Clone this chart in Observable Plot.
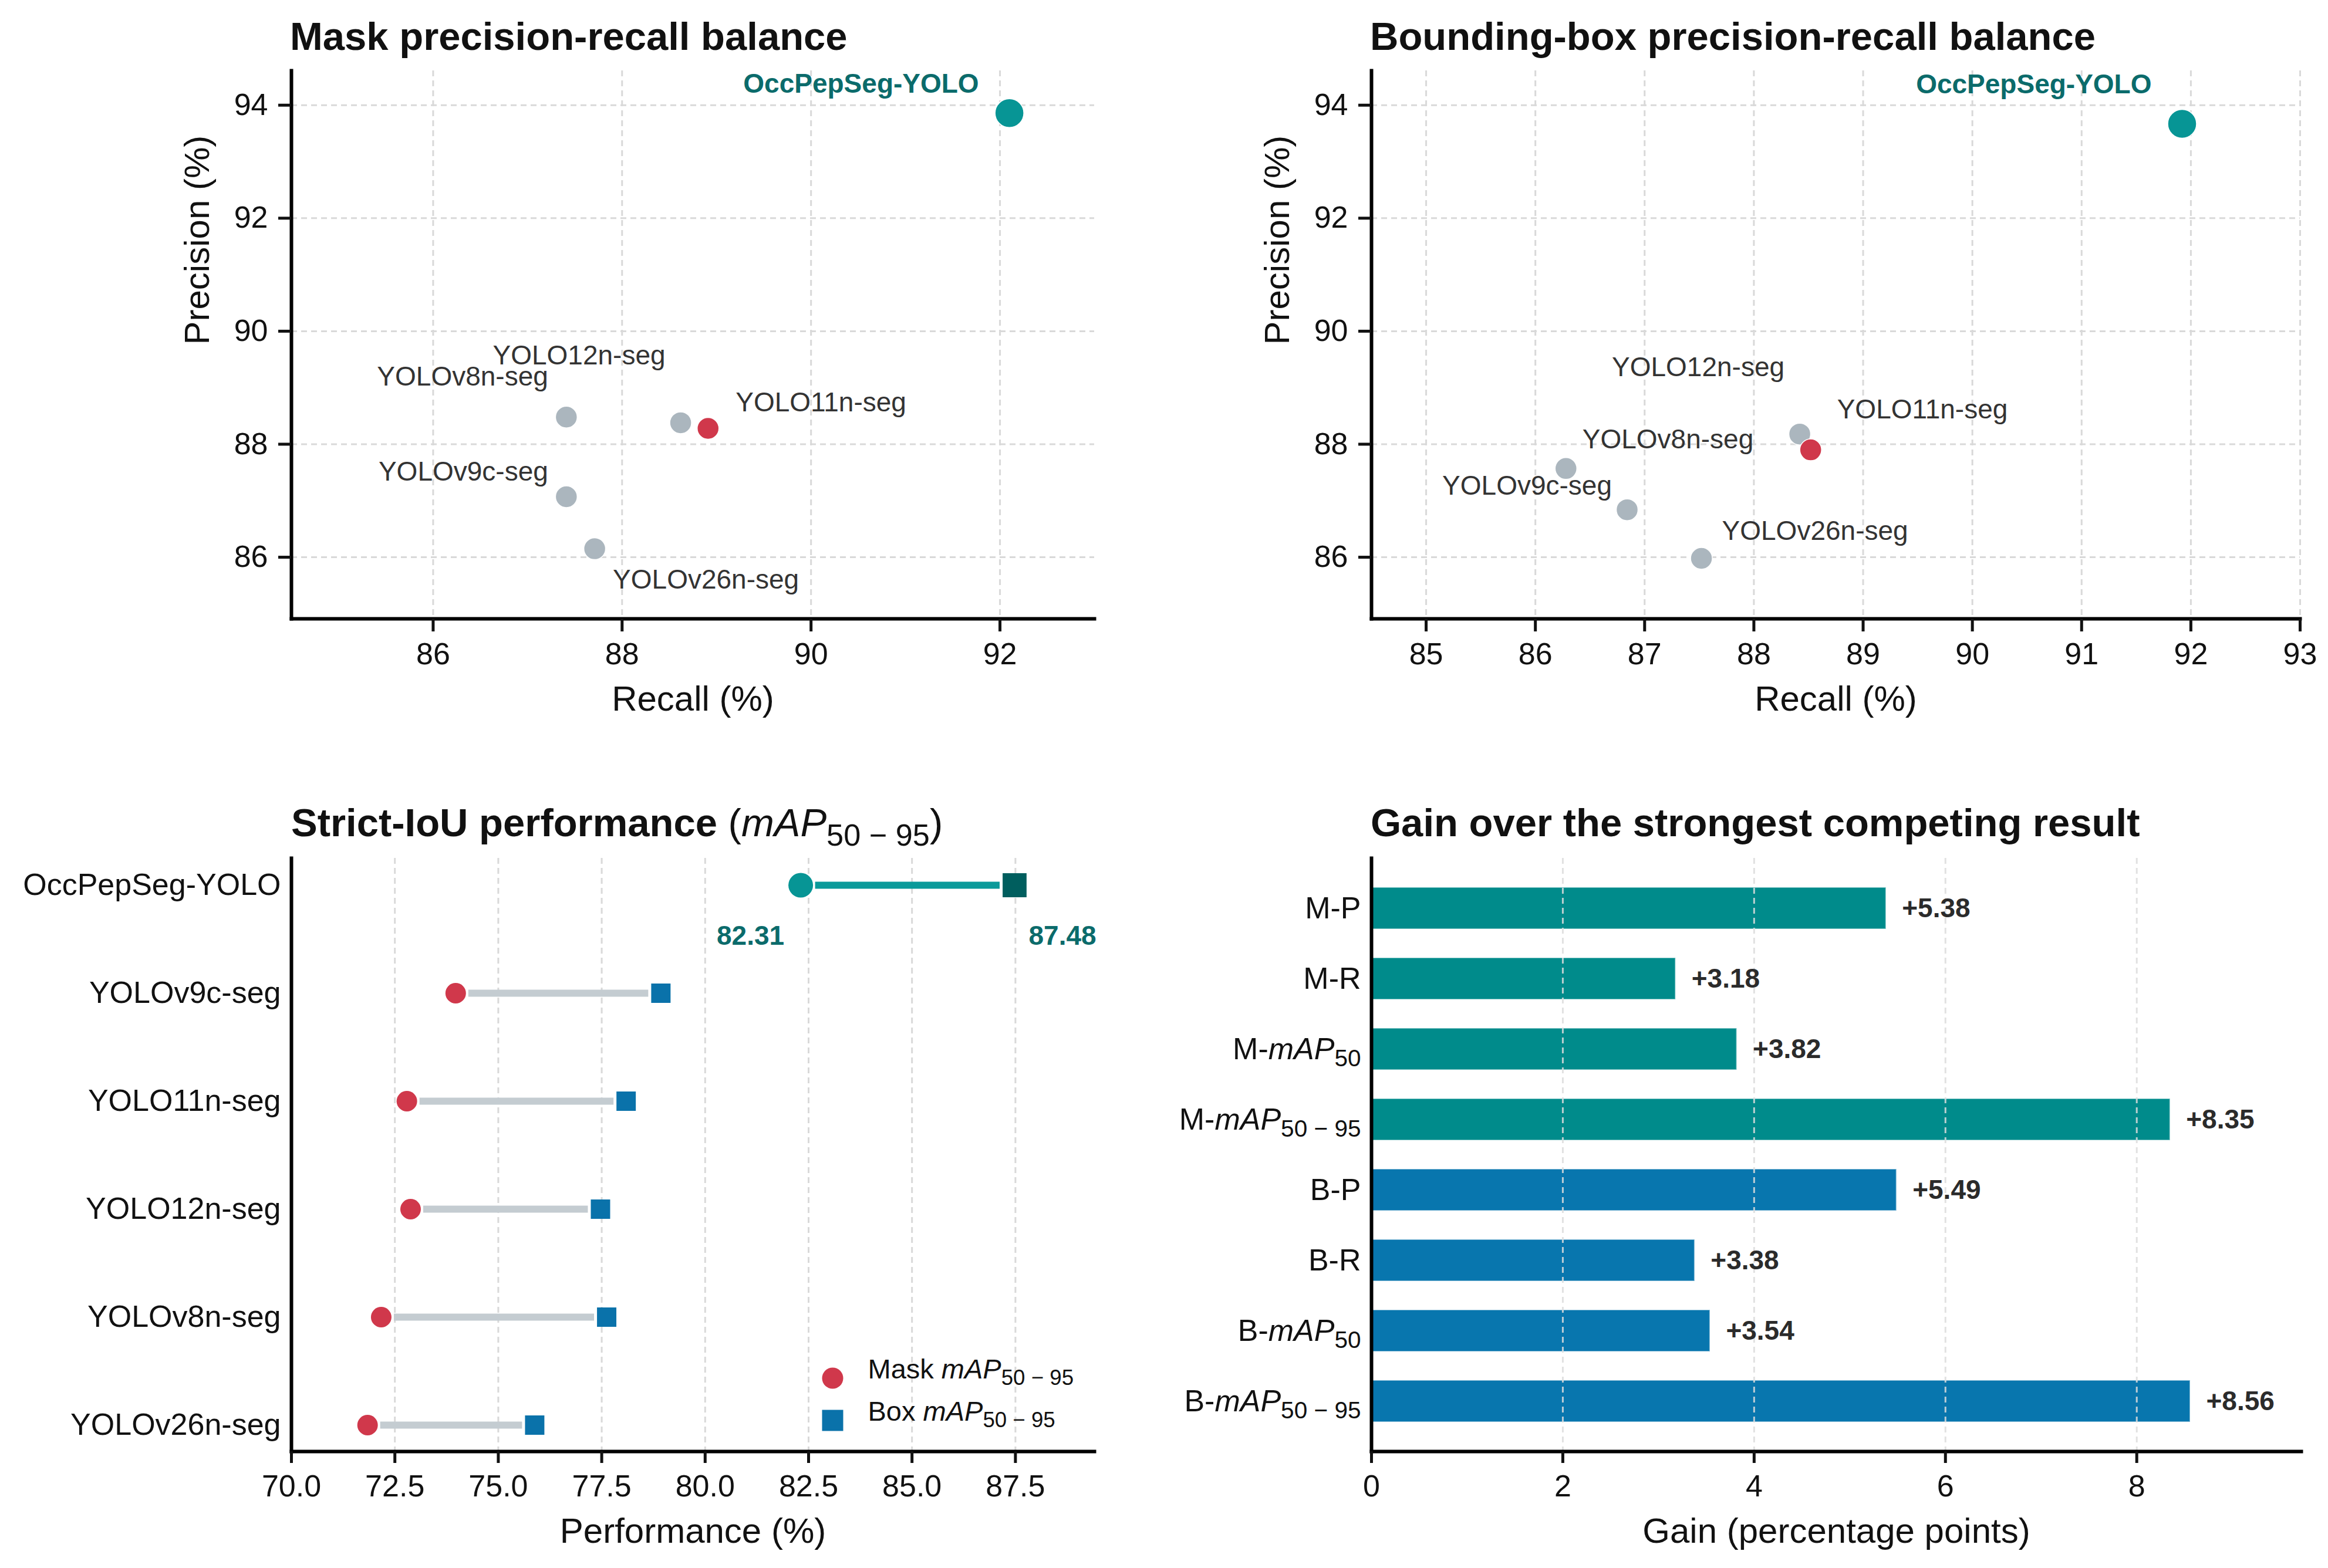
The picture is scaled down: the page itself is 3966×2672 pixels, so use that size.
<!DOCTYPE html>
<html><head><meta charset="utf-8">
<script src="https://cdn.jsdelivr.net/npm/d3@7"></script>
<script src="https://cdn.jsdelivr.net/npm/@observablehq/plot@0.6"></script>
<style>
html,body{margin:0;padding:0;background:#fff;}
#page{position:relative;width:3966px;height:2672px;overflow:hidden;font-family:"Liberation Sans",Arial,sans-serif;background:#fff;}
.panel{position:absolute;width:1983px;height:1336px;}
.panel svg{display:block;overflow:visible;}
.title{position:absolute;font-size:67px;line-height:67px;font-weight:bold;color:#111;white-space:nowrap;}
.title .m{font-weight:normal}
.sub{font-size:0.78em;position:relative;top:0.3em}
</style></head><body><div id="page"></div>
<script>
// ---------------- data ----------------
const scatterModels = ["OccPepSeg-YOLO","YOLOv8n-seg","YOLO12n-seg","YOLO11n-seg","YOLOv9c-seg","YOLOv26n-seg"];
const maskRecall    = [92.10, 87.41, 88.62, 88.91, 87.41, 87.71];
const maskPrecision = [93.86, 88.48, 88.38, 88.28, 87.07, 86.15];
const boxRecall     = [91.92, 86.28, 88.42, 88.52, 86.84, 87.52];
const boxPrecision  = [93.67, 87.57, 88.18, 87.90, 86.84, 85.98];

const dumbbellModels = ["OccPepSeg-YOLO","YOLOv9c-seg","YOLO11n-seg","YOLO12n-seg","YOLOv8n-seg","YOLOv26n-seg"];
const maskMap = [82.31, 73.97, 72.79, 72.88, 72.17, 71.84];
const boxMap  = [87.48, 78.93, 78.09, 77.47, 77.62, 75.88];

const gainLabels = ["M-P","M-R","M-mAP50","M-mAP50 − 95","B-P","B-R","B-mAP50","B-mAP50 − 95"];
const gainValues = [5.38, 3.18, 3.82, 8.35, 5.49, 3.38, 3.54, 8.56];
const gainGroups = ["Mask","Mask","Mask","Mask","Box","Box","Box","Box"];

const precisionTicks = [86, 88, 90, 92, 94];
const maskRecallTicks = [86, 88, 90, 92];
const boxRecallTicks = [85, 86, 87, 88, 89, 90, 91, 92, 93];
const perfTicks = [70, 72.5, 75, 77.5, 80, 82.5, 85, 87.5];
const gainTicks = [0, 2, 4, 6, 8];

const BEST = "OccPepSeg-YOLO", RUNNER = "YOLO11n-seg";

// ---------------- styles ----------------
const FONT = "'Liberation Sans', Arial, sans-serif";
const TEAL = "#079595", TEAL_LINE = "#0a9a9a", TEAL_DARK = "#005e5e", TEAL_TEXT = "#0b6b6b";
const RED = "#d0384b", GRAY = "#abb6be", GRAY_LINE = "#c4ccd1", BLUE = "#0a72aa";
const TEAL_BAR = "#008b8b", BLUE_BAR = "#0876ae";
const GRID = {stroke: "#d9d9d9", strokeOpacity: 1, strokeWidth: 3, strokeDasharray: "10,7"};
const SPINE = {stroke: "#000", strokeWidth: 6, strokeLinecap: "square"};

const maskLabelPos = {
  "OccPepSeg-YOLO": [-52, -49, "end"],
  "YOLOv8n-seg":    [-31, -68, "end"],
  "YOLO12n-seg":    [-26, -114, "end"],
  "YOLO11n-seg":    [47, -44, "start"],
  "YOLOv9c-seg":    [-31, -42, "end"],
  "YOLOv26n-seg":   [31, 53, "start"]
};
const boxLabelPos = {
  "OccPepSeg-YOLO": [-52, -67, "end"],
  "YOLOv8n-seg":    [28, -49, "start"],
  "YOLO12n-seg":    [-26, -113, "end"],
  "YOLO11n-seg":    [45, -68, "start"],
  "YOLOv9c-seg":    [-26, -40, "end"],
  "YOLOv26n-seg":   [35, -46, "start"]
};

function richify(svg) {
  d3.select(svg).selectAll("text").each(function () {
    const t = this.textContent;
    const m = t.match(/^(.*?)mAP(\d[\d\s−]*)$/);
    if (!m) return;
    const sel = d3.select(this);
    sel.text(null);
    if (m[1]) sel.append("tspan").text(m[1]);
    sel.append("tspan").attr("font-style", "italic").text("mAP");
    sel.append("tspan").attr("font-size", "0.78em").attr("dy", "0.3em").text(m[2]);
  });
  return svg;
}

const page = document.getElementById("page");
function place(node, left, top) {
  const div = document.createElement("div");
  div.className = "panel";
  div.style.left = left + "px";
  div.style.top = top + "px";
  div.appendChild(node);
  page.appendChild(div);
}
function title(html, left, top) {
  const div = document.createElement("div");
  div.className = "title";
  div.style.left = left + "px";
  div.style.top = top + "px";
  div.innerHTML = html;
  page.appendChild(div);
}
const baseStyle = {fontFamily: FONT, fontSize: "52px", color: "#111", background: "transparent", overflow: "visible"};

// ---------------- scatter panels ----------------
function scatter(recall, precision, xDomain, xTicks, labelPos, margins) {
  const rows = scatterModels.map((m, i) => ({model: m, recall: recall[i], precision: precision[i]}));
  const others = rows.filter(d => d.model !== BEST && d.model !== RUNNER);
  const labelMarks = rows.map(d => {
    const [dx, dy, anchor] = labelPos[d.model];
    const best = d.model === BEST;
    return Plot.text([d], {x: "recall", y: "precision", text: "model", dx, dy, textAnchor: anchor,
      lineAnchor: "middle", fontSize: 46, fontWeight: best ? "bold" : "normal", fill: best ? TEAL_TEXT : "#333"});
  });
  return Plot.plot({
    width: 1983, height: 1336, ...margins,
    x: {domain: xDomain, label: null},
    y: {domain: [84.91, 94.61], label: null},
    style: baseStyle,
    marks: [
      Plot.gridX({ticks: xTicks, ...GRID}),
      Plot.gridY({ticks: precisionTicks, ...GRID}),
      Plot.frame({anchor: "left", ...SPINE}),
      Plot.frame({anchor: "bottom", ...SPINE}),
      Plot.axisX({ticks: xTicks, tickSize: 22, tickPadding: 19, strokeWidth: 5, label: null}),
      Plot.axisY({ticks: precisionTicks, tickSize: 22, tickPadding: 18, strokeWidth: 5, label: null}),
      Plot.dot(others, {x: "recall", y: "precision", r: 18.5, fill: GRAY, stroke: "white", strokeWidth: 1.5}),
      Plot.dot(rows.filter(d => d.model === RUNNER), {x: "recall", y: "precision", r: 18.5, fill: RED, stroke: "white", strokeWidth: 1.5}),
      Plot.dot(rows.filter(d => d.model === BEST), {x: "recall", y: "precision", r: 24.5, fill: TEAL, stroke: "white", strokeWidth: 1.5}),
      ...labelMarks,
      Plot.text(["Recall (%)"], {frameAnchor: "bottom", dy: 156, fontSize: 60, fill: "#111"}),
      Plot.text(["Precision (%)"], {frameAnchor: "left", dx: -160, rotate: -90, fontSize: 60, fill: "#111"})
    ]
  });
}

place(scatter(maskRecall, maskPrecision, [84.5, 93.0], maskRecallTicks, maskLabelPos,
  {marginLeft: 496, marginRight: 119, marginTop: 120, marginBottom: 282}), 0, 0);
place(scatter(boxRecall, boxPrecision, [84.5, 93.0], boxRecallTicks, boxLabelPos,
  {marginLeft: 353, marginRight: 48, marginTop: 120, marginBottom: 282}), 1983, 0);

// ---------------- dumbbell panel ----------------
{
  const rows = dumbbellModels.map((m, i) => ({model: m, mask: maskMap[i], box: boxMap[i]}));
  const others = rows.filter(d => d.model !== BEST);
  const best = rows.filter(d => d.model === BEST);
  const svg = Plot.plot({
    width: 1983, height: 1336, marginLeft: 496, marginRight: 119, marginTop: 126, marginBottom: 199,
    x: {domain: [70, 89.41], label: null},
    y: {type: "point", domain: dumbbellModels, padding: 0.244, label: null},
    style: baseStyle,
    marks: [
      Plot.gridX({ticks: perfTicks, ...GRID}),
      Plot.frame({anchor: "left", ...SPINE}),
      Plot.frame({anchor: "bottom", ...SPINE}),
      Plot.ruleY(others, {y: "model", x1: "mask", x2: "box", stroke: GRAY_LINE, strokeWidth: 12, insetLeft: 22, insetRight: 21}),
      Plot.ruleY(best, {y: "model", x1: "mask", x2: "box", stroke: TEAL_LINE, strokeWidth: 12, insetLeft: 25, insetRight: 25}),
      Plot.dot(others, {x: "mask", y: "model", r: 17.5, fill: RED}),
      Plot.dot(others, {x: "box", y: "model", r: 18.6, symbol: "square", fill: BLUE}),
      Plot.dot(best, {x: "mask", y: "model", r: 21, fill: TEAL}),
      Plot.dot(best, {x: "box", y: "model", r: 23, symbol: "square", fill: TEAL_DARK}),
      Plot.text(best, {x: "mask", y: "model", text: d => d.mask.toFixed(2), dx: -28, dy: 87, textAnchor: "end", fontWeight: "bold", fontSize: 46, fill: TEAL_TEXT}),
      Plot.text(best, {x: "box", y: "model", text: d => d.box.toFixed(2), dx: 24, dy: 87, textAnchor: "start", fontWeight: "bold", fontSize: 46, fill: TEAL_TEXT}),
      Plot.axisX({ticks: perfTicks, tickFormat: d3.format(".1f"), tickSize: 20, tickPadding: 20, strokeWidth: 5, label: null}),
      Plot.axisY({tickSize: 0, tickPadding: 18, label: null}),
      Plot.dot([0], {frameAnchor: "bottom-right", dx: -446, dy: -125, r: 18, fill: RED}),
      Plot.dot([0], {frameAnchor: "bottom-right", dx: -446, dy: -53, r: 20.3, symbol: "square", fill: BLUE}),
      Plot.text(["Mask mAP50 − 95"], {frameAnchor: "bottom-right", dx: -386, dy: -125, textAnchor: "start", fontSize: 47, fill: "#111"}),
      Plot.text(["Box mAP50 − 95"], {frameAnchor: "bottom-right", dx: -386, dy: -53, textAnchor: "start", fontSize: 47, fill: "#111"}),
      Plot.text(["Performance (%)"], {frameAnchor: "bottom", dy: 155, fontSize: 60, fill: "#111"})
    ]
  });
  place(richify(svg), 0, 1336);
}

// ---------------- gain bars ----------------
{
  const rows = gainLabels.map((l, i) => ({label: l, value: gainValues[i], group: gainGroups[i]}));
  const svg = Plot.plot({
    width: 1983, height: 1336, marginLeft: 353, marginRight: 46, marginTop: 126, marginBottom: 199,
    x: {domain: [0, 9.72], label: null},
    y: {type: "band", domain: gainLabels, paddingInner: 0.41, paddingOuter: 0.4, label: null},
    color: {domain: ["Mask", "Box"], range: [TEAL_BAR, BLUE_BAR]},
    style: baseStyle,
    marks: [
      Plot.barX(rows, {x: "value", y: "label", fill: "group", stroke: "#ffffff", strokeOpacity: 0.45, strokeWidth: 2}),
      Plot.gridX({ticks: [2, 4, 6, 8], stroke: "#dcdcdc", strokeOpacity: 0.85, strokeWidth: 3, strokeDasharray: "10,7"}),
      Plot.frame({anchor: "left", ...SPINE}),
      Plot.frame({anchor: "bottom", ...SPINE}),
      Plot.text(rows, {x: "value", y: "label", text: d => d3.format("+.2f")(d.value), dx: 27, textAnchor: "start", fontWeight: "bold", fontSize: 46, fill: "#2b2b2b"}),
      Plot.axisX({ticks: gainTicks, tickSize: 20, tickPadding: 20, strokeWidth: 5, label: null}),
      Plot.axisY({tickSize: 0, tickPadding: 18, label: null}),
      Plot.text(["Gain (percentage points)"], {frameAnchor: "bottom", dy: 155, fontSize: 60, fill: "#111"})
    ]
  });
  place(richify(svg), 1983, 1336);
}

// ---------------- titles ----------------
title("Mask precision-recall balance", 494, 28);
title("Bounding-box precision-recall balance", 2334, 28);
title('Strict-IoU performance <span class="m">(<i>mAP</i><span class="sub">50 − 95</span>)</span>', 496, 1368);
title("Gain over the strongest competing result", 2335, 1368);
</script></body></html>
